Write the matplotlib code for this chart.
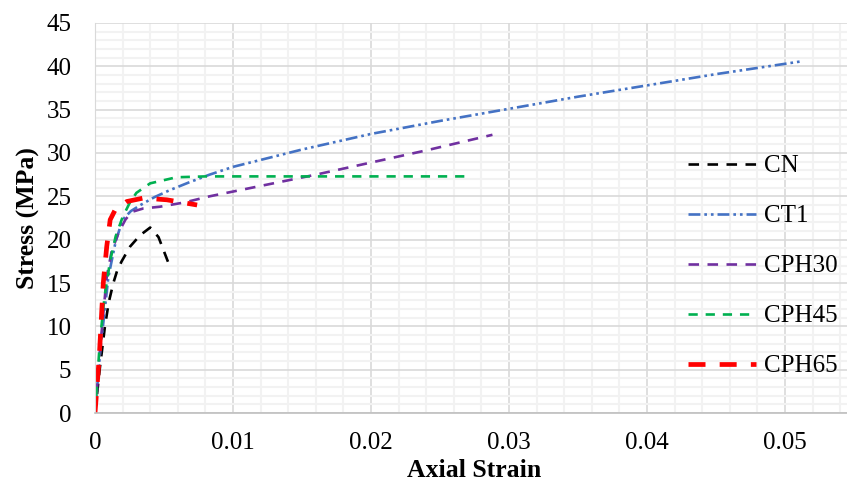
import matplotlib
matplotlib.use('Agg')
import matplotlib.pyplot as plt
from matplotlib.ticker import MultipleLocator, FuncFormatter

# ------------------------------------------------------------------ #
# Stress-strain curves
# ------------------------------------------------------------------ #
cn_strain = [0, 0.00036, 0.00072, 0.001, 0.00133, 0.0016, 0.00193, 0.00254,
             0.00326, 0.004, 0.0046, 0.0053]
cn_stress = [0, 5.3, 10.0, 12.8, 15.0, 16.4, 17.5, 19.2, 20.5, 21.4, 20.3, 17.4]

ct1_strain = [0, 0.0004, 0.00097, 0.0015, 0.002, 0.0026, 0.0033, 0.0043, 0.0054,
              0.0068, 0.0083, 0.01, 0.012, 0.015, 0.02, 0.025, 0.03, 0.035,
              0.04, 0.045, 0.0513]
ct1_stress = [0, 7.5, 15.7, 19.8, 22.3, 23.3, 24.0, 24.9, 25.7, 26.6, 27.5, 28.4,
              29.2, 30.4, 32.2, 33.7, 35.1, 36.5, 37.8, 39.1, 40.6]

cph30_strain = [0, 0.0004, 0.00085, 0.0012, 0.0017, 0.0022, 0.00266, 0.0035,
                0.0047, 0.0065, 0.0083, 0.012, 0.016, 0.02, 0.024, 0.0288]
cph30_stress = [0, 8.0, 15.7, 18.6, 20.8, 22.3, 23.2, 23.6, 23.8, 24.3, 25.0,
                26.2, 27.5, 28.9, 30.3, 32.1]

cph45_strain = [0, 0.00036, 0.0007, 0.0011, 0.0015, 0.002, 0.0025, 0.003, 0.004,
                0.0059, 0.008, 0.012, 0.02, 0.0268]
cph45_stress = [0, 8.4, 13.5, 17.6, 20.4, 22.6, 24.2, 25.4, 26.5, 27.2, 27.3,
                27.3, 27.3, 27.3]

cph65_strain = [0, 0.00031, 0.0006, 0.00085, 0.0011, 0.00145, 0.0023, 0.0035,
                0.0052, 0.0074]
cph65_stress = [0, 6.5, 15.0, 19.2, 22.3, 23.4, 24.4, 24.8, 24.6, 24.0]

x_ticks = [0, 0.01, 0.02, 0.03, 0.04, 0.05]
y_ticks = [0, 5, 10, 15, 20, 25, 30, 35, 40, 45]

plt.rcParams['font.family'] = ['Liberation Serif', 'DejaVu Serif']

fig = plt.figure(figsize=(8.47, 4.87), dpi=100)
ax = fig.add_axes([95 / 847, 74 / 487, 759 / 847, 390 / 487])

ax.plot(cn_strain, cn_stress, color='black', lw=1.9, dashes=(4, 3.2), label='CN')
ax.plot(ct1_strain, ct1_stress, color='#4472C4', lw=1.9,
        dashes=(4.5, 1.5, 1, 1.5, 1, 1.5), label='CT1')
ax.plot(cph30_strain, cph30_stress, color='#7030A0', lw=1.9, dashes=(4, 3.2),
        label='CPH30')
ax.plot(cph45_strain, cph45_stress, color='#00B050', lw=1.9, dashes=(3.5, 3),
        label='CPH45')
ax.plot(cph65_strain, cph65_stress, color='#FF0000', lw=3.4, dashes=(3.6, 3),
        label='CPH65')

ax.set_xlim(0, 0.055)
ax.set_ylim(0, 45)
ax.set_xticks(x_ticks)
ax.set_yticks(y_ticks)
ax.xaxis.set_major_formatter(FuncFormatter(lambda v, p: '0' if v == 0 else f'{v:.2f}'))
ax.xaxis.set_minor_locator(MultipleLocator(0.002))
ax.yaxis.set_minor_locator(MultipleLocator(1))
ax.tick_params(which='both', length=0, labelsize=18)
ax.tick_params(axis='y', pad=17)
ax.tick_params(axis='x', pad=14)

ax.grid(True, which='minor', color='#f2f2f2', lw=1.5)
ax.grid(True, which='major', color='#d9d9d9', lw=1.2)
ax.set_axisbelow(True)

for side in ('top', 'right'):
    ax.spines[side].set_visible(False)
ax.spines['left'].set_color('#d9d9d9')
ax.spines['bottom'].set_color('#bfbfbf')
ax.spines['bottom'].set_linewidth(1.2)

ax.set_xlabel('Axial Strain', fontsize=18.5, fontweight='bold')
ax.set_ylabel('Stress (MPa)', fontsize=18.5, fontweight='bold')
ax.xaxis.set_label_coords(0.5, -0.118)
ax.yaxis.set_label_coords(-0.072, 0.5)

fig.legend(loc='center left', bbox_to_anchor=(688 / 847, 1 - 266 / 487),
           frameon=False, fontsize=18, handlelength=2.7, handletextpad=0.35,
           labelspacing=1.1, borderpad=0, borderaxespad=0)

fig.savefig('out.png', dpi=100)
